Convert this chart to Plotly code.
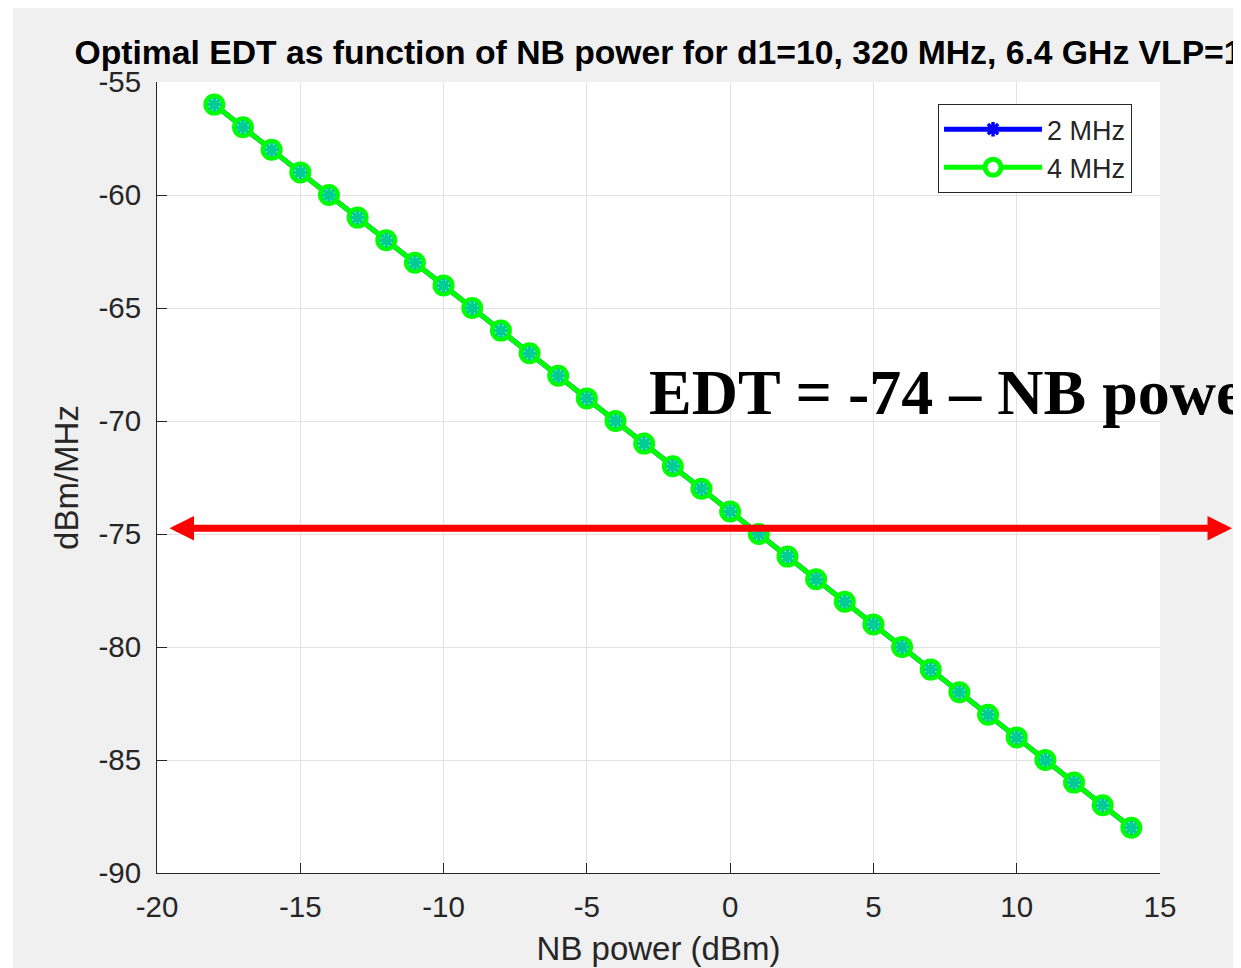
import plotly.graph_objects as go

# NB power (dBm) and optimal EDT (dBm/MHz)
nb_power = [-18, -17, -16, -15, -14, -13, -12, -11, -10, -9, -8, -7, -6, -5, -4, -3, -2,
            -1, 0, 1, 2, 3, 4, 5, 6, 7, 8, 9, 10, 11, 12, 13, 14]
edt_2mhz = [-56, -57, -58, -59, -60, -61, -62, -63, -64, -65, -66, -67, -68, -69, -70, -71, -72,
            -73, -74, -75, -76, -77, -78, -79, -80, -81, -82, -83, -84, -85, -86, -87, -88]
edt_4mhz = [-56, -57, -58, -59, -60, -61, -62, -63, -64, -65, -66, -67, -68, -69, -70, -71, -72,
            -73, -74, -75, -76, -77, -78, -79, -80, -81, -82, -83, -84, -85, -86, -87, -88]
x_ticks = [-20, -15, -10, -5, 0, 5, 10, 15]
x_labels = ["-20", "-15", "-10", "-5", "0", "5", "10", "15"]
y_ticks = [-90, -85, -80, -75, -70, -65, -60, -55]
y_labels = ["-90", "-85", "-80", "-75", "-70", "-65", "-60", "-55"]
arrow_level = -74.75

title = "Optimal EDT as function of NB power for d1=10, 320 MHz, 6.4 GHz VLP=1"
note = "EDT = -74 \u2013 NB power"

sans = "Liberation Sans, Arial, sans-serif"
ink = "#262626"
grid = "#e2e2e2"

fig = go.Figure()

fig.add_trace(go.Scatter(
    x=nb_power, y=edt_2mhz, name="2 MHz", mode="lines+markers",
    line=dict(color="#0000ff", width=5),
    marker=dict(symbol="asterisk-open", size=12, line=dict(color="#0000ff", width=3.5)),
))
fig.add_trace(go.Scatter(
    x=nb_power, y=edt_4mhz, name="4 MHz", mode="lines+markers",
    line=dict(color="#00ff00", width=5),
    marker=dict(symbol="circle", size=17, color="white", line=dict(color="#00ff00", width=5)),
))
# blue stars show through the circles
fig.add_trace(go.Scatter(
    x=nb_power, y=edt_2mhz, mode="markers", showlegend=False, hoverinfo="skip",
    marker=dict(symbol="asterisk-open", size=12, line=dict(color="#0000ff", width=3.5)),
))

fig.add_annotation(
    x=0.4885, y=0.607, xref="paper", yref="paper", xanchor="left", yanchor="middle",
    text=note, showarrow=False,
    font=dict(family="Liberation Serif, Times New Roman, serif", size=64, color="black", weight="bold"),
)
fig.add_annotation(
    x=1.0718, y=arrow_level, xref="paper", yref="y", ax=-1064, ay=0,
    axref="pixel", ayref="pixel", text="", showarrow=True,
    arrowhead=2, arrowside="end+start", arrowwidth=7, arrowsize=0.7,
    arrowcolor="#ff0000", standoff=0, startstandoff=0,
)

# page has an 8px body margin, so the figure is 8px smaller than the window
fig.update_layout(
    width=1233, height=960, autosize=False,
    margin=dict(l=149, r=81, t=74, b=95),
    paper_bgcolor="#f0f0f0", plot_bgcolor="white",
    font=dict(family=sans, color=ink),
    title=dict(
        text=title, x=0.5, xref="paper", xanchor="center",
        y=1 - 44 / 960, yref="container", yanchor="middle",
        font=dict(family=sans, size=33.7, color="black", weight="bold"),
    ),
    legend=dict(
        x=0.7787, y=0.972, xanchor="left", yanchor="top",
        bgcolor="white", bordercolor=ink, borderwidth=1,
        font=dict(family=sans, size=27, color=ink), itemwidth=98,
        tracegroupgap=0,
    ),
    shapes=[
        dict(type="rect", xref="paper", yref="paper", x0=-0.2, x1=-0.1436, y0=-0.2, y1=1.2,
             fillcolor="white", line_width=0, layer="above"),
    ],
)

fig.update_xaxes(
    range=[-20, 15], tickvals=x_ticks, ticktext=x_labels, ticks="inside", ticklen=10, tickcolor=ink,
    showline=True, linecolor=ink, linewidth=1, mirror=False, automargin=False,
    showgrid=True, gridcolor=grid, gridwidth=1, zeroline=False,
    tickfont=dict(size=29.5, color=ink), ticklabelstandoff=8,
    title=dict(text="NB power (dBm)", font=dict(size=33, color=ink), standoff=14),
)
fig.update_yaxes(
    range=[-90, -55], tickvals=y_ticks, ticktext=y_labels, ticks="inside", ticklen=10, tickcolor=ink,
    showline=True, linecolor=ink, linewidth=1, mirror=False, automargin=False,
    showgrid=True, gridcolor=grid, gridwidth=1, zeroline=False,
    tickfont=dict(size=29.5, color=ink), ticklabelstandoff=9,
    title=dict(text="dBm/MHz", font=dict(size=33, color=ink), standoff=9),
)

fig.write_html("out.html")
